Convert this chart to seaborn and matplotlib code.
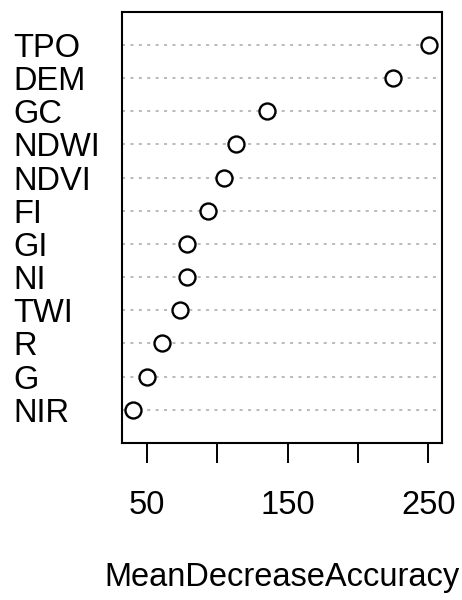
import pandas as pd
import seaborn as sns
import matplotlib.pyplot as plt

# variable importance, top to bottom
variables = ['TPO', 'DEM', 'GC', 'NDWI', 'NDVI', 'FI', 'GI', 'NI', 'TWI', 'R', 'G', 'NIR']
accuracy = [250.7, 225.1, 135.2, 113.2, 104.7, 93.3, 78.6, 78.6, 73.7, 61.1, 50.5, 40.5]

x_ticks = [50, 100, 150, 200, 250]
x_tick_labels = ['50', '', '150', '', '250']

df = pd.DataFrame({'variable': variables, 'MeanDecreaseAccuracy': accuracy})

sns.set_style('white')
plt.rcParams['font.family'] = ['Liberation Sans', 'DejaVu Sans']
plt.rcParams['text.color'] = 'black'
plt.rcParams['xtick.color'] = 'black'
plt.rcParams['ytick.color'] = 'black'
plt.rcParams['axes.labelcolor'] = 'black'

fs = 23.5

fig = plt.figure(figsize=(4.62, 6), dpi=100)
ax = fig.add_axes([0.2634, 0.2617, 0.6926, 0.7188])

sns.stripplot(data=df, x='MeanDecreaseAccuracy', y='variable', order=variables,
              jitter=False, size=11.5, color='white', edgecolor='black',
              linewidth=1.7, ax=ax, zorder=3)

ax.set_xlim(32.2, 259.5)
ax.set_ylim(len(variables), -1)

ax.yaxis.grid(True, linestyle=(0, (2, 3.5)), color='#a8a8a8', linewidth=1.1)
ax.xaxis.grid(False)

ax.set_xticks(x_ticks)
ax.set_xticklabels(x_tick_labels)
ax.tick_params(axis='x', direction='out', length=14.5, width=1.4,
               labelsize=fs, pad=19, bottom=True)
ax.tick_params(axis='y', length=0, labelsize=fs, pad=78)
for lab in ax.get_yticklabels():
    lab.set_horizontalalignment('left')

for s in ax.spines.values():
    s.set_visible(True)
    s.set_color('black')
    s.set_linewidth(1.5)

ax.set_ylabel('')
ax.set_xlabel('MeanDecreaseAccuracy', fontsize=fs, labelpad=30)

fig.savefig('out.png', dpi=100)
